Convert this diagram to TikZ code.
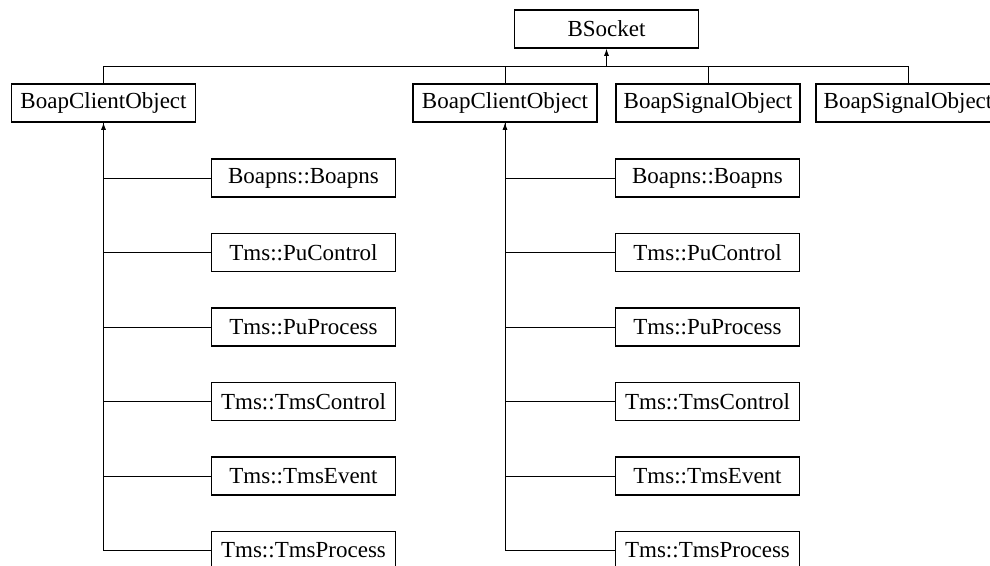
\documentclass[tikz,border=0pt]{standalone}
\usepackage{fontspec}
\setmainfont{Liberation Serif}
\usetikzlibrary{arrows.meta}
\begin{document}
\begin{tikzpicture}[x=1pt, y=-1pt,
    every node/.style={font=\fontsize{23}{27}\selectfont},
    cls/.style={draw, line width=1.5pt, minimum width=184pt, minimum height=38pt, inner sep=0pt},
    link/.style={line width=0.9pt},
    inh/.style={link, {Latex[length=7pt,width=5pt]}-}]
  \useasboundingbox (0,0) rectangle (990,565);
  \node[cls] (bsock) at (606.5,29) {BSocket};
  \node[cls] (clientA) at (103.5,103) {BoapClientObject};
  \node[cls] (clientB) at (505,103) {BoapClientObject};
  \node[cls] (signalA) at (708,103) {BoapSignalObject};
  \node[cls] (signalB) at (908,103) {BoapSignalObject};
  \coordinate (bus) at (606.5,66);
  \draw[inh] (bsock.south) -- (bus);
  \foreach \p in {clientA,clientB,signalA,signalB}
    \draw[link] (bus) -| (\p.north);
  % derived classes, one column per client object
  \foreach \col/\x in {A/303.5,B/707.5} {
    \foreach \i/\y/\lab in {1/178/Boapns::Boapns,2/252.5/Tms::PuControl,3/327/Tms::PuProcess,
                            4/401.5/Tms::TmsControl,5/476/Tms::TmsEvent,6/550.5/Tms::TmsProcess} {
      \node[cls] (sub\col\i) at (\x,\y) {\lab};
      \draw[link] (client\col.south) |- (sub\col\i.west);
    }
    \draw[inh] (client\col.south) -- ++(0,20);
  }
\end{tikzpicture}
\end{document}
